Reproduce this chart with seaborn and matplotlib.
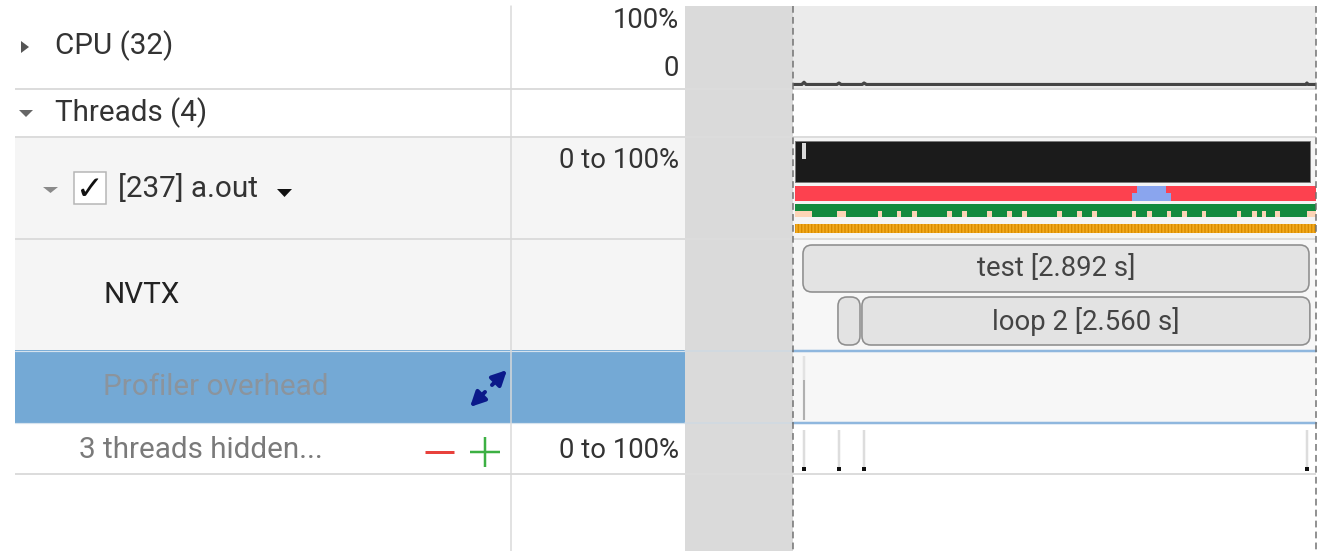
import matplotlib
matplotlib.use("Agg")
import matplotlib.pyplot as plt
import seaborn as sns
import numpy as np
import pandas as pd
from matplotlib.patches import FancyBboxPatch, Rectangle, Polygon

# ---------------- data ----------------
row_labels = ["CPU (32)", "Threads (4)", "[237] a.out", "NVTX", "Profiler overhead", "3 threads hidden..."]
cpu_scale_labels = ["100%", "0"]
thread_scale_label = "0 to 100%"
hidden_scale_label = "0 to 100%"

timeline_span_s = 2.989

cpu_time = [0.0, 0.050, 0.063, 0.075, 0.250, 0.263, 0.275, 0.395, 0.406, 0.420, 2.930, 2.937, 2.945, 2.989]
cpu_util = [0, 0, 3, 0, 0, 2, 0, 0, 2, 0, 0, 2, 0, 0]

busy_start, busy_dur = 0.011, 2.943
busy_dip_start, busy_dip_dur = 0.051, 0.023
running_start, running_dur = 0.011, 2.978
blue_lower_start, blue_lower_dur = 1.937, 0.223
blue_upper_start, blue_upper_dur = 1.966, 0.165
green_start, green_dur = 0.011, 2.978
peach_starts = [0.011, 0.251, 0.483, 0.594, 0.680, 0.880, 0.966, 1.109, 1.223, 1.311, 1.509,
                1.623, 1.709, 1.937, 2.026, 2.137, 2.223, 2.337, 2.537, 2.623, 2.680, 2.754, 2.937]
peach_widths = [0.097, 0.051, 0.026, 0.026, 0.026, 0.026, 0.026, 0.026, 0.026, 0.026, 0.026,
                0.026, 0.026, 0.026, 0.026, 0.026, 0.026, 0.026, 0.026, 0.026, 0.026, 0.030, 0.052]
orange_start, orange_dur = 0.011, 2.978

nvtx_names = ["test", "loop 1", "loop 2"]
nvtx_start = [0.057, 0.257, 0.394]
nvtx_dur = [2.892, 0.126, 2.560]
nvtx_level = [0, 1, 1]

overhead_marks = [0.063]
hidden_marks = [0.063, 0.263, 0.406, 2.937]

# ---------------- style ----------------
sns.set_theme(style="white")
plt.rcParams["font.family"] = ["Roboto", "DejaVu Sans"]
plt.rcParams["hatch.linewidth"] = 1.0

W, H = 1326, 551
PX = 72.0 / 100.0  # points per pixel

fig = plt.figure(figsize=(W / 100, H / 100), dpi=100)
fig.patch.set_facecolor("white")
ax = fig.add_axes([0, 0, 1, 1])
ax.set_xlim(0, W)
ax.set_ylim(H, 0)
ax.axis("off")

TL0, TL1 = 793, 1316  # timeline pixel span
GREY0 = 685

# row geometry (pixels)
rows = [(6, 89), (89, 137), (137, 239), (239, 350), (350, 423), (423, 474)]
left_bg = ["white", "white", "#f5f5f5", "#f5f5f5", "#74a9d5", "white"]
tl_bg = ["#ebebeb", "white", "#f4f4f4", "#f7f7f7", "#f7f7f7", "white"]

for (y0, y1), lb, tb in zip(rows, left_bg, tl_bg):
    ax.add_patch(Rectangle((15, y0), GREY0 - 15, y1 - y0, facecolor=lb, edgecolor="none", zorder=0))
    ax.add_patch(Rectangle((TL0, y0), TL1 - TL0, y1 - y0, facecolor=tb, edgecolor="none", zorder=0))

# grey gutter
ax.add_patch(Rectangle((GREY0, 6), TL0 - GREY0, H - 6, facecolor="#dadada", edgecolor="none", zorder=1))

# separators
for y in [89, 137, 239, 474]:
    ax.plot([15, TL1], [y, y], color="#dcdcdc", lw=2 * PX, zorder=2, solid_capstyle="butt")
for y in [351, 423]:
    ax.plot([15, GREY0], [y, y], color="#d6e3ee", lw=1.2 * PX, zorder=2)
    ax.plot([GREY0, TL0], [y, y], color="#cfd9e3", lw=1.5 * PX, zorder=2)
    ax.plot([TL0, TL1], [y, y], color="#8fb7de", lw=2.5 * PX, zorder=2)

# vertical divider
ax.plot([511, 511], [6, H], color="#d9d9d9", lw=1.5 * PX, zorder=3)

# ---------------- left panel text & icons ----------------
FS = 21.3
FS2 = 19.8
ax.text(55, 46, row_labels[0], fontsize=FS, color="#333333", va="center", ha="left", zorder=5)
ax.text(55, 113, row_labels[1], fontsize=FS, color="#333333", va="center", ha="left", zorder=5)
ax.text(118, 188, row_labels[2], fontsize=FS, color="#333333", va="center", ha="left", zorder=5)
ax.text(103, 295, row_labels[3], fontsize=FS, color="#222222", va="center", ha="left", zorder=5)
ax.text(103, 387, row_labels[4], fontsize=FS, color="#8b949d", va="center", ha="left", zorder=5)
ax.text(79, 450, row_labels[5], fontsize=FS, color="#7a7a7a", va="center", ha="left", zorder=5)

ax.text(679, 21, cpu_scale_labels[0], fontsize=FS2, color="#333333", va="center", ha="right", zorder=5)
ax.text(679, 69, cpu_scale_labels[1], fontsize=FS2, color="#333333", va="center", ha="right", zorder=5)
ax.text(679, 161, thread_scale_label, fontsize=FS2, color="#333333", va="center", ha="right", zorder=5)
ax.text(679, 450, hidden_scale_label, fontsize=FS2, color="#333333", va="center", ha="right", zorder=5)

# triangles
ax.add_patch(Polygon([[21, 41], [21, 53], [29, 47]], closed=True, facecolor="#555555", edgecolor="none", zorder=5))
ax.add_patch(Polygon([[19, 110], [33, 110], [26, 117]], closed=True, facecolor="#666666", edgecolor="none", zorder=5))
ax.add_patch(Polygon([[43, 187], [58, 187], [50.5, 193]], closed=True, facecolor="#8a8a8a", edgecolor="none", zorder=5))
ax.add_patch(Polygon([[277, 189], [292, 189], [284.5, 197]], closed=True, facecolor="#111111", edgecolor="none", zorder=5))

# checkbox
ax.add_patch(Rectangle((74, 172), 32, 32, facecolor="white", edgecolor="#b5b5b5", lw=1.5 * PX, zorder=5))
ax.text(90, 190, "\u2713", fontsize=24, fontweight="bold", color="#111111", ha="center", va="center",
        family=["DejaVu Sans"], zorder=6)

# expand icon
navy = "#0b1a8a"
ax.annotate("", xy=(507, 370), xytext=(492, 385),
            arrowprops=dict(arrowstyle="-|>", lw=4 * PX, color=navy, mutation_scale=22, shrinkA=0, shrinkB=0),
            zorder=6)
ax.annotate("", xy=(470, 407), xytext=(485, 392),
            arrowprops=dict(arrowstyle="-|>", lw=4 * PX, color=navy, mutation_scale=22, shrinkA=0, shrinkB=0),
            zorder=6)

# minus / plus
ax.plot([425, 454], [452, 452], color="#e8413c", lw=3 * PX, zorder=6, solid_capstyle="butt")
ax.plot([470, 500], [452, 452], color="#3cb043", lw=2.5 * PX, zorder=6, solid_capstyle="butt")
ax.plot([485, 485], [437, 467], color="#3cb043", lw=2.5 * PX, zorder=6, solid_capstyle="butt")

# ---------------- CPU utilisation axes ----------------
ax_cpu = fig.add_axes([TL0 / W, (H - 86) / H, (TL1 - TL0) / W, (86 - 10) / H])
ax_cpu.set_xlim(0, timeline_span_s)
ax_cpu.set_ylim(-2, 100)
ax_cpu.axis("off")
ax_cpu.patch.set_alpha(0)
cpu_df = pd.DataFrame({"t": cpu_time, "util": cpu_util})
sns.lineplot(data=cpu_df, x="t", y="util", ax=ax_cpu, color="#454545", lw=3.2 * PX)

# ---------------- timeline axes (x in seconds, y in pixels) ----------------
ax_t = fig.add_axes([TL0 / W, 0, (TL1 - TL0) / W, 1])
ax_t.set_xlim(0, timeline_span_s)
ax_t.set_ylim(H, 0)
ax_t.axis("off")
ax_t.patch.set_alpha(0)

# thread utilisation (black)
ax_t.barh(141, busy_dur, left=busy_start, height=41, align="edge", color="#1b1b1b",
          edgecolor="#7a7a7a", lw=1 * PX)
ax_t.barh(143, busy_dip_dur, left=busy_dip_start, height=16, align="edge", color="#d9d9d9", lw=0)

# thread state (red / blue)
ax_t.barh(186, running_dur, left=running_start, height=15, align="edge", color="#fd414f", lw=0)
ax_t.barh(193, blue_lower_dur, left=blue_lower_start, height=8, align="edge", color="#8aa5ee", lw=0)
ax_t.barh(186, blue_upper_dur, left=blue_upper_start, height=8, align="edge", color="#8aa5ee", lw=0)

# green band with peach notches
ax_t.barh(204, green_dur, left=green_start, height=13, align="edge", color="#138a3e", lw=0)
ax_t.broken_barh(list(zip(peach_starts, peach_widths)), (210.5, 6.5), facecolors="#fcd4b6", lw=0)

# orange striped band
ax_t.barh(224, orange_dur, left=orange_start, height=9, align="edge", color="#f2a91e",
          edgecolor="#d98c00", hatch="|||||", lw=0)

# NVTX ranges
pps = (TL1 - TL0) / timeline_span_s  # pixels per second
for name, s, d, lvl in zip(nvtx_names, nvtx_start, nvtx_dur, nvtx_level):
    top = 245 + lvl * 52
    h = 47 if lvl == 0 else 48
    box = FancyBboxPatch((s, top), d, h,
                         boxstyle=f"round,pad=0,rounding_size={9 / pps}",
                         mutation_aspect=pps, facecolor="#e3e3e3", edgecolor="#8e8e8e",
                         lw=1.6 * PX, zorder=3)
    ax_t.add_patch(box)
    if d * pps > 60:
        label = f"{name} [{d:.3f} s]"
        ax_t.text(s + d / 2, top + h / 2, label, fontsize=FS2, color="#444444",
                  ha="center", va="center", zorder=4)

# profiler overhead marks
ax_t.vlines(overhead_marks, 356, 420, color="#e2e2e2", lw=2.5 * PX)
ax_t.vlines(overhead_marks, 380, 420, color="#b0b0b0", lw=2 * PX)

# hidden threads marks
ax_t.vlines(hidden_marks, 430, 467, color="#dddddd", lw=2.5 * PX)
sns.scatterplot(x=hidden_marks, y=[469] * len(hidden_marks), ax=ax_t, marker="s", s=10,
                color="#111111", edgecolor="none", zorder=5, legend=False)
ax_t.set_xlim(0, timeline_span_s)
ax_t.set_ylim(H, 0)
ax_t.axis("off")

# dashed timeline borders
for xv in [0, timeline_span_s]:
    ax_t.plot([xv, xv], [6, H], color="#707070", lw=1.5 * PX, ls=(0, (4.5, 2.8)), clip_on=False, zorder=6)

fig.savefig("out.png", dpi=100, facecolor="white")
